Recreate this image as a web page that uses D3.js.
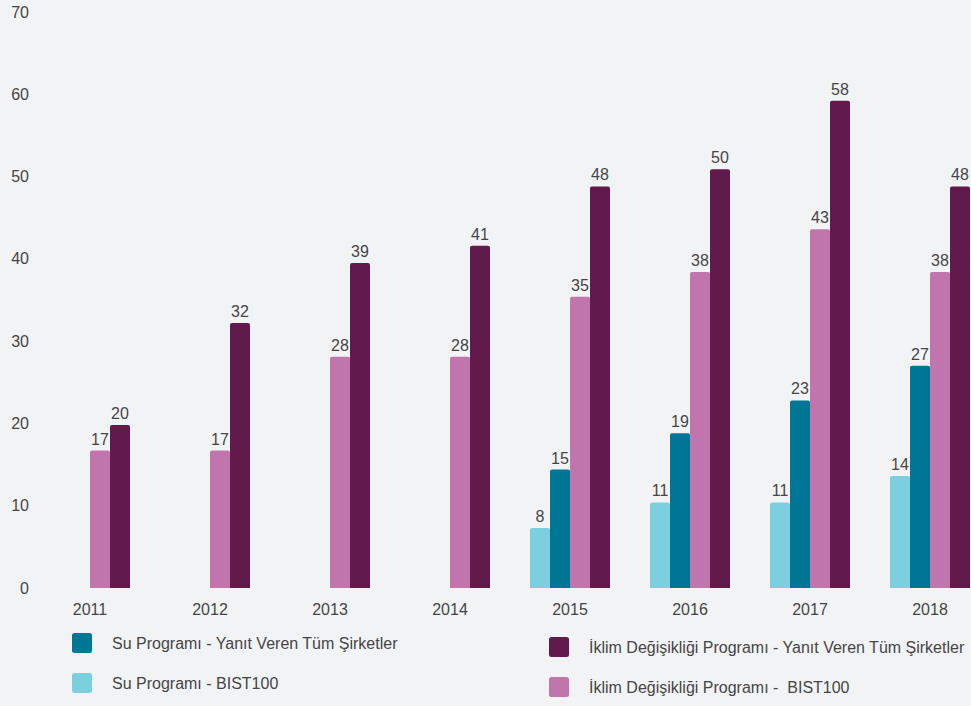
<!DOCTYPE html>
<html><head><meta charset="utf-8">
<script src="https://cdn.jsdelivr.net/npm/d3@7"></script>
<style>
html,body{margin:0;padding:0;background:#f2f3f5;}
svg{display:block;font-family:"Liberation Sans",Arial,sans-serif;}
</style></head>
<body><svg id="c" width="971" height="706"></svg>
<script>
const years = ["2011","2012","2013","2014","2015","2016","2017","2018"];
const suBist = [null,null,null,null,7.3,10.4,10.4,13.6];
const suTum = [null,null,null,null,14.4,18.8,22.8,27.0];
const iklimBist = [16.7,16.7,28.1,28.1,35.4,38.4,43.6,38.4];
const iklimTum = [19.8,32.2,39.5,41.6,48.8,50.9,59.2,48.8];
const suBistLabels = [null,null,null,null,"8","11","11","14"];
const suTumLabels = [null,null,null,null,"15","19","23","27"];
const iklimBistLabels = ["17","17","28","28","35","38","43","38"];
const iklimTumLabels = ["20","32","39","41","48","50","58","48"];
const yTicks = [0,10,20,30,40,50,60,70];
const seriesNames = ["Su Programı - BIST100","Su Programı - Yanıt Veren Tüm Şirketler","İklim Değişikliği Programı -  BIST100","İklim Değişikliği Programı - Yanıt Veren Tüm Şirketler"];
const colors = ["#7bcfdf","#007697","#c076ac","#611a4b"];

const series = [
  {name:seriesNames[0], values:suBist, labels:suBistLabels, color:colors[0]},
  {name:seriesNames[1], values:suTum, labels:suTumLabels, color:colors[1]},
  {name:seriesNames[2], values:iklimBist, labels:iklimBistLabels, color:colors[2]},
  {name:seriesNames[3], values:iklimTum, labels:iklimTumLabels, color:colors[3]}
];

const svg = d3.select("#c");
const x = d3.scaleBand().domain(years).range([30,990]).paddingInner(1/3).paddingOuter(1/6);
const xs = d3.scaleBand().domain(d3.range(4)).range([0,x.bandwidth()]);
const y = d3.scaleLinear().domain([0,70]).range([588,12]);
const txt = "#454545";

// y axis labels
svg.append("g").selectAll("text").data(yTicks).join("text")
  .attr("x",29).attr("y",d=>y(d)).attr("dy","0.35em")
  .attr("text-anchor","end").attr("font-size",16).attr("fill",txt)
  .text(d=>d);

// x labels
svg.append("g").selectAll("text").data(years).join("text")
  .attr("x",d=>x(d)+x.bandwidth()/2).attr("y",615)
  .attr("text-anchor","middle").attr("font-size",16).attr("fill",txt)
  .text(d=>d);

function topRounded(x0,y0,w,h,r){
  r=Math.min(r,h);
  return `M${x0},${y0+h}V${y0+r}Q${x0},${y0} ${x0+r},${y0}H${x0+w-r}Q${x0+w},${y0} ${x0+w},${y0+r}V${y0+h}Z`;
}

series.forEach((s,si)=>{
  const data = years.map((yr,i)=>({yr, v:s.values[i], l:s.labels[i]})).filter(d=>d.v!=null);
  const g = svg.append("g");
  g.selectAll("path").data(data).join("path")
    .attr("fill",s.color)
    .attr("d",d=>topRounded(x(d.yr)+xs(si), y(d.v), xs.bandwidth(), y(0)-y(d.v), 2));
  g.selectAll("text").data(data).join("text")
    .attr("x",d=>x(d.yr)+xs(si)+xs.bandwidth()/2)
    .attr("y",d=>y(d.v)-6)
    .attr("text-anchor","middle").attr("font-size",16).attr("fill",txt)
    .text(d=>d.l);
});

// legend
const legendItems = [
  {s:series[1], x:72, y:633},
  {s:series[0], x:72, y:673},
  {s:series[3], x:549, y:637},
  {s:series[2], x:549, y:677}
];
const lg = svg.append("g").selectAll("g").data(legendItems).join("g")
  .attr("transform",d=>`translate(${d.x},${d.y})`);
lg.append("rect").attr("width",20).attr("height",20).attr("rx",2.5).attr("fill",d=>d.s.color);
lg.append("text").attr("x",40).attr("y",10).attr("dy","0.35em")
  .attr("font-size",16).attr("fill",txt)
  .style("white-space","pre")
  .text(d=>d.s.name);
</script>
</body></html>
